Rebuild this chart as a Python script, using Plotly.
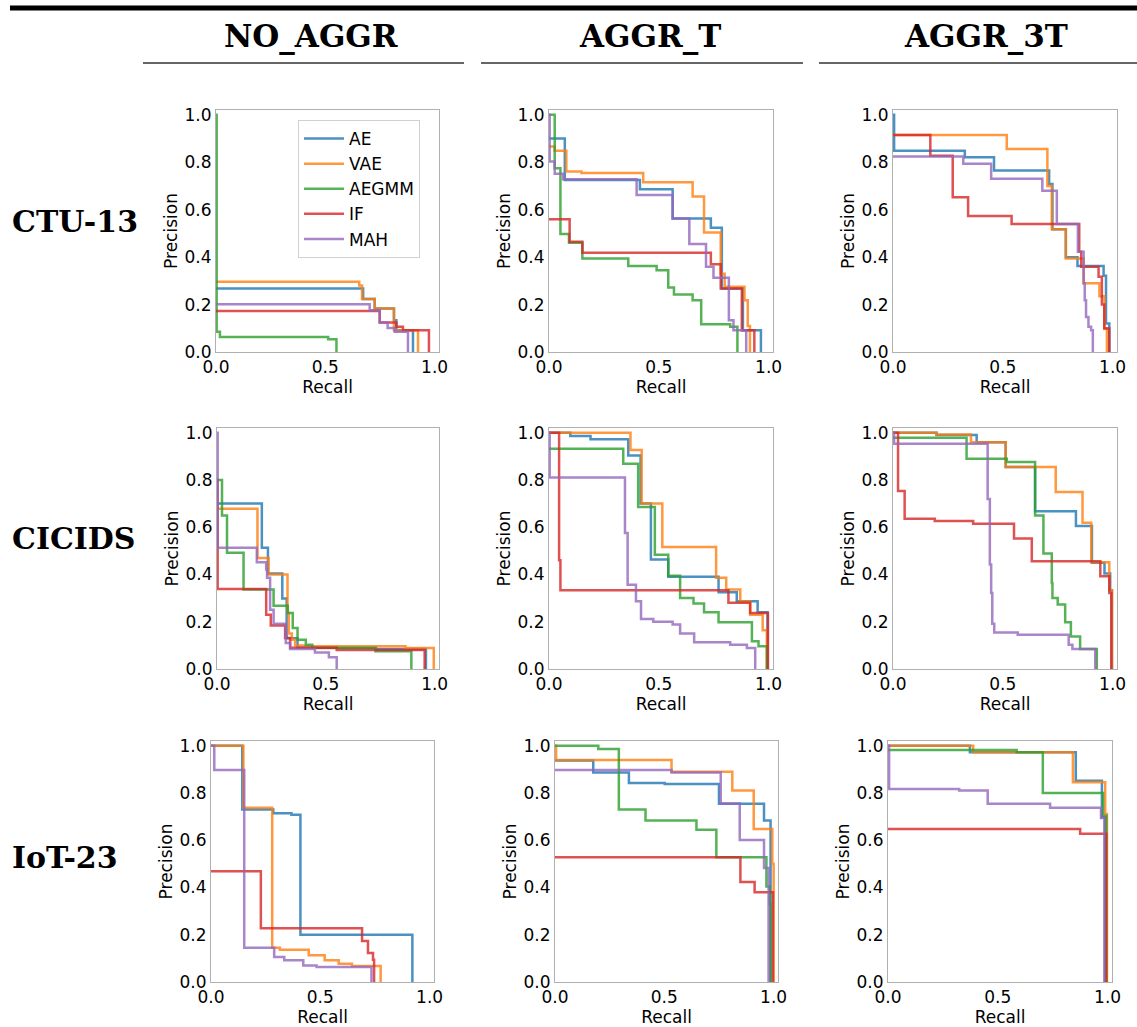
import plotly.graph_objects as go

W, H = 1137, 1027

METHODS = ["AE", "VAE", "AEGMM", "IF", "MAH"]
COLORS = {"AE": "#1f77b4", "VAE": "#ff7f0e", "AEGMM": "#2ca02c", "IF": "#d62728", "MAH": "#9467bd"}
COLUMNS = ["NO_AGGR", "AGGR_T", "AGGR_3T"]
ROWS = ["CTU-13", "CICIDS", "IoT-23"]
X_TICKS = [0.0, 0.5, 1.0]
Y_TICKS = [0.0, 0.2, 0.4, 0.6, 0.8, 1.0]

# Each curve: (recall at start of each precision level, precision level); last point drops to 0
ctu_no_aggr = {
    "AE": ([0, 0.673, 0.726, 0.814, 0.825, 0.901], [0.268, 0.223, 0.183, 0.134, 0.092, 0]),
    "VAE": ([0, 0.655, 0.668, 0.726, 0.814, 0.924], [0.296, 0.28, 0.223, 0.183, 0.092, 0]),
    "AEGMM": ([0, 0.003, 0.018, 0.513, 0.551], [1.0, 0.085, 0.063, 0.054, 0]),
    "IF": ([0, 0.749, 0.825, 0.855, 0.974], [0.173, 0.124, 0.106, 0.092, 0]),
    "MAH": ([0, 0.703, 0.749, 0.785, 0.817, 0.878], [0.201, 0.176, 0.124, 0.101, 0.085, 0]),
}
ctu_aggr_t = {
    "AE": ([0, 0.072, 0.414, 0.563, 0.737, 0.787, 0.883, 0.965], [0.90, 0.725, 0.686, 0.563, 0.524, 0.268, 0.092, 0]),
    "VAE": ([0, 0.026, 0.079, 0.148, 0.429, 0.654, 0.706, 0.782, 0.80, 0.89, 0.905, 0.915],
            [0.866, 0.848, 0.761, 0.754, 0.715, 0.655, 0.504, 0.33, 0.275, 0.218, 0.11, 0]),
    "AEGMM": ([0, 0.026, 0.052, 0.091, 0.152, 0.361, 0.49, 0.543, 0.569, 0.654, 0.693, 0.825, 0.858],
              [1.0, 0.775, 0.497, 0.461, 0.394, 0.363, 0.345, 0.272, 0.242, 0.218, 0.117, 0.106, 0]),
    "IF": ([0, 0.094, 0.152, 0.737, 0.782, 0.878, 0.935], [0.559, 0.465, 0.418, 0.370, 0.268, 0.092, 0]),
    "MAH": ([0, 0.003, 0.026, 0.064, 0.399, 0.563, 0.639, 0.715, 0.749, 0.819, 0.840, 0.898],
            [1.0, 0.803, 0.751, 0.728, 0.662, 0.563, 0.455, 0.359, 0.313, 0.134, 0.092, 0]),
}
ctu_aggr_3t = {
    "AE": ([0, 0.005, 0.327, 0.46, 0.711, 0.726, 0.787, 0.84, 0.959, 0.97, 0.985],
           [1.0, 0.848, 0.821, 0.765, 0.708, 0.517, 0.399, 0.363, 0.321, 0.12, 0]),
    "VAE": ([0, 0.518, 0.703, 0.723, 0.787, 0.868, 0.94, 0.963, 0.974],
            [0.915, 0.856, 0.700, 0.517, 0.394, 0.29, 0.235, 0.10, 0]),
    "IF": ([0, 0.17, 0.272, 0.342, 0.54, 0.848, 0.857, 0.936, 0.951, 0.962, 0.985],
           [0.915, 0.827, 0.652, 0.573, 0.539, 0.423, 0.359, 0.317, 0.2, 0.099, 0]),
    "MAH": ([0, 0.32, 0.447, 0.68, 0.746, 0.842, 0.868, 0.873, 0.879, 0.89, 0.902, 0.91],
            [0.824, 0.793, 0.730, 0.680, 0.539, 0.423, 0.29, 0.218, 0.148, 0.106, 0.092, 0]),
}
cic_no_aggr = {
    "AE": ([0, 0.206, 0.234, 0.30, 0.32, 0.37, 0.73, 0.96], [0.70, 0.513, 0.404, 0.298, 0.13, 0.09, 0.085, 0]),
    "VAE": ([0, 0.186, 0.237, 0.324, 0.33, 0.344, 0.359, 0.40, 0.866, 0.996],
            [0.678, 0.47, 0.40, 0.237, 0.15, 0.124, 0.099, 0.096, 0.089, 0]),
    "AEGMM": ([0, 0.023, 0.046, 0.122, 0.26, 0.325, 0.348, 0.37, 0.408, 0.438, 0.728, 0.893],
              [0.80, 0.65, 0.492, 0.336, 0.268, 0.237, 0.174, 0.124, 0.103, 0.089, 0.075, 0]),
    "IF": ([0, 0.003, 0.226, 0.247, 0.313, 0.336, 0.55, 0.954], [0.80, 0.339, 0.23, 0.184, 0.131, 0.09, 0.08, 0]),
    "MAH": ([0, 0.003, 0.183, 0.226, 0.23, 0.244, 0.26, 0.316, 0.336, 0.45, 0.514, 0.55],
            [1.0, 0.513, 0.452, 0.421, 0.386, 0.251, 0.192, 0.11, 0.085, 0.07, 0.05, 0]),
}
cic_aggr_t = {
    "AE": ([0, 0.097, 0.189, 0.361, 0.417, 0.464, 0.543, 0.772, 0.855, 0.95, 0.995],
           [1.0, 0.986, 0.972, 0.904, 0.70, 0.463, 0.39, 0.325, 0.287, 0.24, 0]),
    "VAE": ([0, 0.371, 0.422, 0.516, 0.761, 0.807, 0.871, 0.916, 0.973, 0.992],
            [1.0, 0.927, 0.70, 0.516, 0.386, 0.336, 0.287, 0.23, 0.164, 0]),
    "AEGMM": ([0, 0.338, 0.406, 0.482, 0.543, 0.597, 0.658, 0.706, 0.772, 0.924, 0.954, 0.992],
              [0.932, 0.869, 0.686, 0.484, 0.395, 0.30, 0.277, 0.24, 0.198, 0.117, 0.096, 0]),
    "IF": ([0, 0.046, 0.052, 0.817, 0.916, 0.997], [1.0, 0.46, 0.333, 0.28, 0.237, 0]),
    "MAH": ([0, 0.003, 0.346, 0.358, 0.396, 0.419, 0.475, 0.563, 0.597, 0.661, 0.825, 0.901, 0.939],
            [1.0, 0.81, 0.576, 0.357, 0.287, 0.212, 0.2, 0.188, 0.15, 0.113, 0.103, 0.089, 0]),
}
cic_aggr_3t = {
    "AE": ([0, 0.198, 0.381, 0.513, 0.647, 0.833, 0.906, 0.963, 0.989, 0.997],
           [1.0, 0.99, 0.96, 0.855, 0.668, 0.605, 0.45, 0.404, 0.333, 0]),
    "VAE": ([0, 0.198, 0.355, 0.513, 0.741, 0.863, 0.903, 0.985, 0.997],
            [1.0, 0.993, 0.96, 0.855, 0.749, 0.619, 0.452, 0.333, 0]),
    "AEGMM": ([0, 0.335, 0.518, 0.647, 0.685, 0.723, 0.726, 0.75, 0.784, 0.81, 0.852, 0.928],
              [0.979, 0.89, 0.876, 0.65, 0.489, 0.364, 0.30, 0.273, 0.198, 0.138, 0.085, 0]),
    "IF": ([0, 0.023, 0.053, 0.19, 0.365, 0.551, 0.632, 0.944, 0.985, 0.994],
           [1.0, 0.753, 0.636, 0.626, 0.615, 0.552, 0.456, 0.393, 0.322, 0]),
    "MAH": ([0, 0.005, 0.431, 0.441, 0.447, 0.452, 0.461, 0.568, 0.80, 0.817, 0.921],
            [1.0, 0.953, 0.72, 0.442, 0.322, 0.192, 0.155, 0.145, 0.103, 0.085, 0]),
}
iot_no_aggr = {
    "AE": ([0, 0.143, 0.285, 0.368, 0.409, 0.921], [1.0, 0.73, 0.714, 0.708, 0.2, 0]),
    "VAE": ([0, 0.148, 0.28, 0.315, 0.447, 0.52, 0.584, 0.645, 0.776],
            [1.0, 0.737, 0.145, 0.137, 0.113, 0.092, 0.077, 0.068, 0]),
    "IF": ([0, 0.228, 0.691, 0.718, 0.741, 0.746], [0.469, 0.228, 0.173, 0.123, 0.094, 0]),
    "MAH": ([0, 0.015, 0.152, 0.289, 0.335, 0.422, 0.483, 0.734],
            [1.0, 0.897, 0.145, 0.106, 0.092, 0.07, 0.063, 0]),
}
iot_aggr_t = {
    "AE": ([0, 0.175, 0.338, 0.502, 0.75, 0.956, 0.986], [0.937, 0.887, 0.842, 0.838, 0.754, 0.683, 0]),
    "VAE": ([0, 0.005, 0.533, 0.811, 0.909, 0.994, 1.0], [1.0, 0.94, 0.89, 0.81, 0.648, 0.5, 0]),
    "AEGMM": ([0, 0.198, 0.292, 0.414, 0.647, 0.738, 0.967, 0.982, 0.985],
              [1.0, 0.986, 0.73, 0.683, 0.644, 0.528, 0.404, 0.331, 0]),
    "IF": ([0, 0.848, 0.913, 0.997], [0.528, 0.423, 0.38, 0]),
    "MAH": ([0, 0.533, 0.758, 0.845, 0.956, 0.977], [0.897, 0.887, 0.756, 0.601, 0.482, 0]),
}
iot_aggr_3t = {
    "AE": ([0, 0.373, 0.855, 0.974, 0.989], [1.0, 0.972, 0.852, 0.697, 0]),
    "VAE": ([0, 0.388, 0.842, 0.989, 0.997], [1.0, 0.972, 0.845, 0.711, 0]),
    "AEGMM": ([0, 0.586, 0.705, 0.979, 0.994], [0.982, 0.972, 0.80, 0.704, 0]),
    "IF": ([0, 0.875, 0.994], [0.648, 0.627, 0]),
    "MAH": ([0, 0.005, 0.324, 0.454, 0.738, 0.97, 0.985], [1.0, 0.817, 0.81, 0.754, 0.737, 0.694, 0]),
}

PANELS = [
    [ctu_no_aggr, ctu_aggr_t, ctu_aggr_3t],
    [cic_no_aggr, cic_aggr_t, cic_aggr_3t],
    [iot_no_aggr, iot_aggr_t, iot_aggr_3t],
]

# pixel boxes of each plot area: (left, right, top, bottom)
BOXES = [
    [(216, 439, 110, 352), (549, 773, 110, 352), (893, 1117, 110, 352)],
    [(217, 439, 428, 669), (549, 773, 428, 669), (893, 1117, 428, 669)],
    [(211, 434, 741, 982), (555, 778, 741, 982), (888, 1112, 741, 982)],
]

fig = go.Figure()
tick_font = dict(family="DejaVu Sans", size=17, color="#000000")
axis_style = dict(showline=True, mirror=True, linecolor="#b0b0b0", linewidth=1, ticks="",
                  showgrid=False, zeroline=False, automargin=False, tickfont=tick_font,
                  range=[0, 1.02], fixedrange=True)

k = 0
for r in range(3):
    for c in range(3):
        k += 1
        xa = "x" if k == 1 else f"x{k}"
        ya = "y" if k == 1 else f"y{k}"
        L, R, T, B = BOXES[r][c]
        fig.update_layout(**{
            ("xaxis" if k == 1 else f"xaxis{k}"): dict(
                axis_style, domain=[L / W, R / W], anchor=ya,
                tickvals=X_TICKS, ticktext=[f"{v:.1f}" for v in X_TICKS],
                title=dict(text="Recall", font=dict(family="DejaVu Sans", size=17, color="#000"), standoff=0)),
            ("yaxis" if k == 1 else f"yaxis{k}"): dict(
                axis_style, domain=[1 - B / H, 1 - T / H], anchor=xa,
                tickvals=Y_TICKS, ticktext=[f"{v:.1f}" for v in Y_TICKS],
                title=dict(text="Precision", font=dict(family="DejaVu Sans", size=17, color="#000"), standoff=2)),
        })
        panel = PANELS[r][c]
        for m in METHODS:
            if m not in panel:
                continue
            rx, py = panel[m]
            fig.add_trace(go.Scatter(
                x=rx, y=py, mode="lines", name=m, xaxis=xa, yaxis=ya,
                line=dict(color=COLORS[m], width=2.5, shape="hv"), opacity=0.8,
                showlegend=(k == 1), hoverinfo="skip"))

anns = []
col_centers = [311, 650, 986]
for name, cx in zip(COLUMNS, col_centers):
    anns.append(dict(text=f"<b>{name}</b>", x=cx / W, y=1 - 36 / H, xref="paper", yref="paper",
                     xanchor="center", yanchor="middle", showarrow=False,
                     font=dict(family="DejaVu Serif", size=31, color="#000")))
row_centers = [221, 538, 857]
for name, cy in zip(ROWS, row_centers):
    anns.append(dict(text=f"<b>{name}</b>", x=10 / W, y=1 - cy / H, xref="paper", yref="paper",
                     xanchor="left", yanchor="middle", showarrow=False,
                     font=dict(family="DejaVu Serif", size=30, color="#000")))

shapes = [dict(type="line", xref="paper", yref="paper", x0=10 / W, x1=1, y0=1 - 8 / H, y1=1 - 8 / H,
               line=dict(color="#000", width=5))]
for x0, x1 in [(143, 464), (481, 803), (819, 1137)]:
    shapes.append(dict(type="line", xref="paper", yref="paper", x0=x0 / W, x1=x1 / W,
                       y0=1 - 63 / H, y1=1 - 63 / H, line=dict(color="#333", width=1.5)))

fig.update_layout(
    width=W, height=H, margin=dict(l=0, r=0, t=0, b=0),
    paper_bgcolor="white", plot_bgcolor="white",
    annotations=anns, shapes=shapes,
    legend=dict(x=298 / W, y=1 - 120 / H, xanchor="left", yanchor="top",
                bordercolor="#d0d0d0", borderwidth=1, bgcolor="rgba(255,255,255,0.8)",
                font=dict(family="DejaVu Sans", size=17, color="#000"), tracegroupgap=0,
                itemwidth=40),
)

fig.write_html("out.html")
